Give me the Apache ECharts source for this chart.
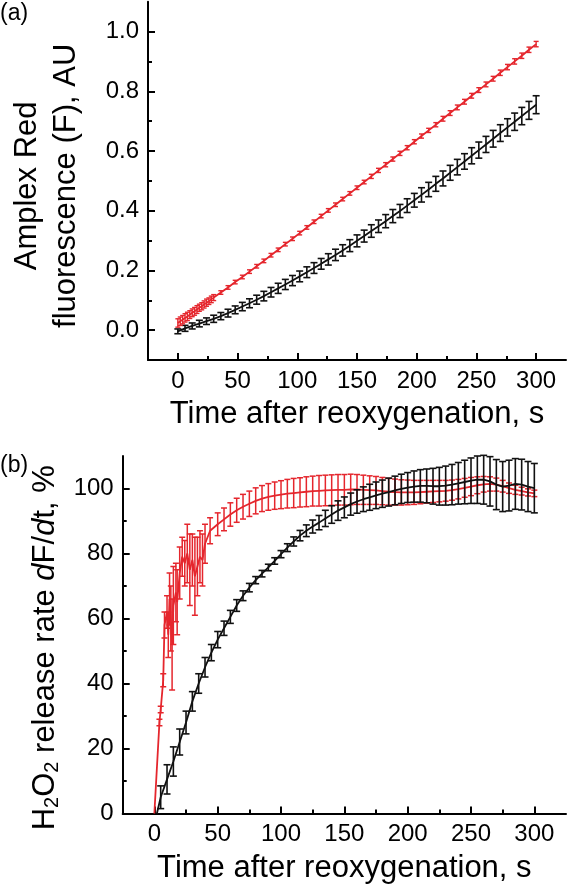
<!DOCTYPE html>
<html><head><meta charset="utf-8">
<script src="https://cdn.jsdelivr.net/npm/echarts@6/dist/echarts.min.js"></script>
<style>html,body{margin:0;padding:0;background:#fff}#c{width:568px;height:886px}</style>
</head><body><div id="c"></div><script>
// ---------- tick labels ----------
const xTicks = [0, 50, 100, 150, 200, 250, 300];
const xMinorTicks = [25, 75, 125, 175, 225, 275];
const topYTicks = [0, 0.2, 0.4, 0.6, 0.8, 1.0];
const topYMinorTicks = [0.1, 0.3, 0.5, 0.7, 0.9];
const botYTicks = [0, 20, 40, 60, 80, 100];
const botYMinorTicks = [10, 30, 50, 70, 90];

// ---------- panel (a): Amplex Red fluorescence ----------
const topBlackT = [0,6,12,18,24,30,36,42,48,54,60,66,72,78,84,90,96,102,108,114,120,126,132,138,144,150,156,162,168,174,180,186,192,198,204,210,216,222,228,234,240,246,252,258,264,270,276,282,288,294,300];
const topBlackV = [-0.004,0.006,0.014,0.022,0.030,0.038,0.047,0.057,0.068,0.079,0.090,0.102,0.114,0.127,0.140,0.153,0.166,0.180,0.194,0.208,0.222,0.237,0.252,0.267,0.283,0.299,0.315,0.332,0.348,0.365,0.382,0.399,0.417,0.435,0.453,0.471,0.490,0.508,0.527,0.546,0.565,0.584,0.603,0.622,0.641,0.660,0.679,0.698,0.717,0.736,0.755];
const topBlackE = [0.008,0.010,0.010,0.011,0.011,0.012,0.012,0.013,0.013,0.014,0.015,0.015,0.016,0.016,0.017,0.017,0.017,0.018,0.018,0.018,0.018,0.019,0.019,0.019,0.020,0.020,0.020,0.021,0.021,0.022,0.022,0.022,0.023,0.023,0.024,0.024,0.025,0.025,0.025,0.026,0.026,0.027,0.027,0.027,0.028,0.028,0.029,0.029,0.029,0.030,0.030];

const topRedT = [0,2,4,6,8,10,12,14,16,18,20,22,24,26,28,30,36,42,48,54,60,66,72,78,84,90,96,102,108,114,120,126,132,138,144,150,156,162,168,174,180,186,192,198,204,210,216,222,228,234,240,246,252,258,264,270,276,282,288,294,300];
const topRedV = [0.024,0.030,0.035,0.041,0.046,0.052,0.058,0.063,0.069,0.075,0.080,0.086,0.092,0.097,0.103,0.109,0.126,0.143,0.161,0.178,0.196,0.214,0.232,0.251,0.269,0.288,0.306,0.325,0.344,0.363,0.382,0.401,0.420,0.439,0.458,0.477,0.496,0.515,0.535,0.554,0.573,0.592,0.611,0.631,0.650,0.669,0.688,0.708,0.727,0.746,0.765,0.785,0.804,0.823,0.842,0.862,0.881,0.900,0.919,0.939,0.958];
const topRedE = [0.014,0.014,0.014,0.014,0.014,0.013,0.013,0.013,0.013,0.012,0.012,0.012,0.012,0.011,0.011,0.010,0.006,0.006,0.006,0.006,0.006,0.006,0.006,0.006,0.006,0.006,0.006,0.006,0.006,0.006,0.006,0.006,0.006,0.006,0.006,0.006,0.006,0.007,0.007,0.007,0.007,0.007,0.007,0.007,0.007,0.007,0.007,0.008,0.008,0.008,0.008,0.008,0.008,0.008,0.008,0.009,0.009,0.009,0.009,0.009,0.009];

// ---------- panel (b): H2O2 release rate ----------
const botBlackT = [2,5,10,15,20,25,30,35,40,45,50,55,60,65,70,75,80,85,90,95,100,105,110,115,120,125,130,135,140,145,150,155,160,165,170,175,180,185,190,195,200,205,210,215,220,225,230,235,240,245,250,255,260,265,270,275,280,285,290,295,300];
const botBlackV = [0,5,10.5,16,22,28,34.5,40,45,49.5,53.5,57,60.5,64,67,69.5,71.8,73.8,75.7,77.7,79.8,81.8,83.7,85.5,87,88.3,89.5,90.8,92,93.2,94.2,95.2,96,96.7,97.3,97.9,98.4,98.9,99.4,99.9,100.3,100.6,100.8,100.8,100.7,100.7,100.9,101.2,101.6,102,102.4,102.7,102.7,102.2,101.2,100.6,100.9,101.4,101.2,100.6,100.1];
const botBlackE = [0,3.5,4.5,4.5,4,3.5,3,3,3,2.5,2.5,2.2,2,1.8,1.5,1.3,1.1,1,1,1,1.1,1.2,1.4,1.6,1.8,2,2.2,2.5,2.7,3,3.2,3.4,3.6,3.8,4,4.1,4.2,4.3,4.4,4.5,4.6,4.8,5,5.2,5.5,5.8,6,6.2,6.4,6.7,7,7.3,7.5,7.6,7.7,7.7,7.8,7.8,7.8,7.7,7.6];

const botRedT = [0,4,5,7,8,10,11,12,13,14,15,17,18,20,22,24,26,28,30,32,34,36,38,40,44,50,55,60,65,70,75,80,85,90,95,100,105,110,115,120,125,130,135,140,145,150,155,160,165,170,175,180,185,190,195,200,205,210,215,220,225,230,235,240,245,250,255,260,265,270,275,280,285,290,295,300];
const botRedV = [0,28,32,41,58,62,55,66,60,52,64,68,65,74,79,77,80,75,78,73,76,79,78,83,87,89,90.5,92,93.3,94.4,95.3,96.2,96.9,97.4,97.8,98.1,98.4,98.6,98.8,99,99.2,99.3,99.4,99.5,99.6,99.6,99.7,99.7,99.6,99.5,99.4,99.2,99,98.9,98.8,98.8,98.8,98.9,99,99.1,99.2,99.3,99.5,99.8,100.2,100.6,101,101.3,101.4,101.2,100.7,100.1,99.6,99.2,98.8,98.5];
const botRedE = [0,1,1,2,4,5,7,8,10,14,12,9,10,8,6,7,9,11,8,12,9,8,8,6,4,3.5,3.5,3.6,3.7,3.8,3.9,4,4,4.1,4.2,4.3,4.4,4.5,4.5,4.6,4.6,4.7,4.7,4.7,4.7,4.7,4.7,4.6,4.5,4.4,4.3,4.2,4.1,4,3.9,3.8,3.7,3.6,3.5,3.4,3.3,3.2,3.1,3,2.9,2.8,2.6,2.4,2.2,2,1.8,1.6,1.4,1.2,1.1,1];

// ---------- styling ----------
const RED = '#e5262d';
const BLACK = '#111111';
const FONT = '"Liberation Sans", Arial, Helvetica, sans-serif';

const chart = echarts.init(document.getElementById('c'), null, {renderer: 'canvas'});

function zip3(t, v, e) { return t.map((x, i) => [x, v[i], e[i]]); }
function zip2(t, v) { return t.map((x, i) => [x, v[i]]); }

function errBar(capHalf, color, width) {
  return function (params, api) {
    const x = api.value(0), y = api.value(1), e = api.value(2);
    if (!e) return null;
    const hi = api.coord([x, y + e]);
    const lo = api.coord([x, y - e]);
    const st = {stroke: color, lineWidth: width};
    return {type: 'group', children: [
      {type: 'line', shape: {x1: hi[0], y1: hi[1], x2: lo[0], y2: lo[1]}, style: st},
      {type: 'line', shape: {x1: hi[0] - capHalf, y1: hi[1], x2: hi[0] + capHalf, y2: hi[1]}, style: st},
      {type: 'line', shape: {x1: lo[0] - capHalf, y1: lo[1], x2: lo[0] + capHalf, y2: lo[1]}, style: st}
    ]};
  };
}

const labelStyle = {color: '#000', fontSize: 24, fontFamily: FONT};
const lineStyleAxis = {color: '#000', width: 2};

function mainX(gridIndex) {
  return {
    type: 'value', gridIndex, min: -25, max: 325, position: 'bottom',
    axisLine: {show: true, onZero: false, lineStyle: lineStyleAxis},
    axisTick: {show: true, inside: true, length: 7, lineStyle: {color: '#000', width: 2}, customValues: xTicks},
    axisLabel: {show: true, margin: 9, customValues: xTicks, ...labelStyle},
    splitLine: {show: false},
    name: 'Time after reoxygenation, s', nameLocation: 'middle', nameGap: 38,
    nameTextStyle: {color: '#000', fontSize: 31, fontFamily: FONT, lineHeight: 33}
  };
}
function minorX(gridIndex) {
  return {
    type: 'value', gridIndex, min: -25, max: 325, position: 'bottom', offset: 0,
    axisLine: {show: false, onZero: false},
    axisTick: {show: true, inside: true, length: 4, lineStyle: {color: '#000', width: 2}, customValues: xMinorTicks},
    axisLabel: {show: false}, splitLine: {show: false}
  };
}

const option = {
  animation: false,
  backgroundColor: '#fff',
  grid: [
    {left: 122.7, right: 2, top: 1.7, height: 358.3},
    {left: 122.7, right: 2, top: 456, height: 357.5}
  ],
  xAxis: [mainX(0), mainX(1), minorX(0), minorX(1)],
  yAxis: [
    {
      type: 'value', gridIndex: 0, min: -0.1, max: 1.1, position: 'left',
      axisLine: {show: true, onZero: false, lineStyle: lineStyleAxis},
      axisTick: {show: true, inside: true, length: 7, lineStyle: {color: '#000', width: 2}, customValues: topYTicks},
      axisLabel: {show: true, margin: 9, customValues: topYTicks, formatter: v => Number(v).toFixed(1), ...labelStyle},
      splitLine: {show: false},
      name: 'Amplex Red\nfluorescence (F), AU', nameLocation: 'middle', nameGap: 62,
      nameTextStyle: {color: '#000', fontSize: 31, fontFamily: FONT, lineHeight: 39, align: 'center', padding: [0, 10, 0, 0]}
    },
    {
      type: 'value', gridIndex: 1, min: 0, max: 110, position: 'left',
      axisLine: {show: true, onZero: false, lineStyle: lineStyleAxis},
      axisTick: {show: true, inside: true, length: 7, lineStyle: {color: '#000', width: 2}, customValues: botYTicks},
      axisLabel: {show: true, margin: 9, customValues: botYTicks, ...labelStyle},
      splitLine: {show: false},
      name: '{n|H}{s|2}{n|O}{s|2}{n| release rate }{i|d}{n|F/}{i|d}{n|t, %}',
      nameLocation: 'middle', nameGap: 60,
      nameTextStyle: {
        color: '#000', fontSize: 31, fontFamily: FONT, lineHeight: 34, padding: [0, 26, 0, 0],
        rich: {
          n: {color: '#000', fontSize: 31, fontFamily: FONT, lineHeight: 34},
          i: {color: '#000', fontSize: 31, fontFamily: FONT, fontStyle: 'italic', lineHeight: 34},
          s: {color: '#000', fontSize: 20, fontFamily: FONT, lineHeight: 34, verticalAlign: 'bottom'}
        }
      }
    },
    {
      type: 'value', gridIndex: 0, min: -0.1, max: 1.1, position: 'left', offset: 0,
      axisLine: {show: false, onZero: false},
      axisTick: {show: true, inside: true, length: 4, lineStyle: {color: '#000', width: 2}, customValues: topYMinorTicks},
      axisLabel: {show: false}, splitLine: {show: false}
    },
    {
      type: 'value', gridIndex: 1, min: 0, max: 110, position: 'left', offset: 0,
      axisLine: {show: false, onZero: false},
      axisTick: {show: true, inside: true, length: 4, lineStyle: {color: '#000', width: 2}, customValues: botYMinorTicks},
      axisLabel: {show: false}, splitLine: {show: false}
    }
  ],
  graphic: [
    {type: 'text', left: 0, top: 2, style: {text: '(a)', fontSize: 23, fontFamily: FONT, fill: '#000'}},
    {type: 'text', left: 0, top: 454, style: {text: '(b)', fontSize: 23, fontFamily: FONT, fill: '#000'}}
  ],
  series: [
    // panel (a)
    {type: 'custom', xAxisIndex: 0, yAxisIndex: 0, renderItem: errBar(3.5, BLACK, 1.6), data: zip3(topBlackT, topBlackV, topBlackE), encode: {x: 0, y: 1}, z: 3},
    {type: 'line', xAxisIndex: 0, yAxisIndex: 0, data: zip2(topBlackT, topBlackV), symbol: 'none', lineStyle: {color: BLACK, width: 1.8}, z: 4},
    {type: 'custom', xAxisIndex: 0, yAxisIndex: 0, renderItem: errBar(2.5, RED, 1.4), data: zip3(topRedT, topRedV, topRedE), encode: {x: 0, y: 1}, z: 5},
    {type: 'line', xAxisIndex: 0, yAxisIndex: 0, data: zip2(topRedT, topRedV), symbol: 'none', lineStyle: {color: RED, width: 1.8}, z: 6},
    // panel (b)
    {type: 'custom', xAxisIndex: 1, yAxisIndex: 1, renderItem: errBar(3, RED, 1.5), data: zip3(botRedT, botRedV, botRedE), encode: {x: 0, y: 1}, z: 3},
    {type: 'line', xAxisIndex: 1, yAxisIndex: 1, data: zip2(botRedT, botRedV), symbol: 'none', lineStyle: {color: RED, width: 1.8}, z: 4},
    {type: 'custom', xAxisIndex: 1, yAxisIndex: 1, renderItem: errBar(3.5, BLACK, 1.6), data: zip3(botBlackT, botBlackV, botBlackE), encode: {x: 0, y: 1}, z: 5},
    {type: 'line', xAxisIndex: 1, yAxisIndex: 1, data: zip2(botBlackT, botBlackV), symbol: 'none', lineStyle: {color: BLACK, width: 1.8}, z: 6}
  ]
};
chart.setOption(option);
</script></body></html>
